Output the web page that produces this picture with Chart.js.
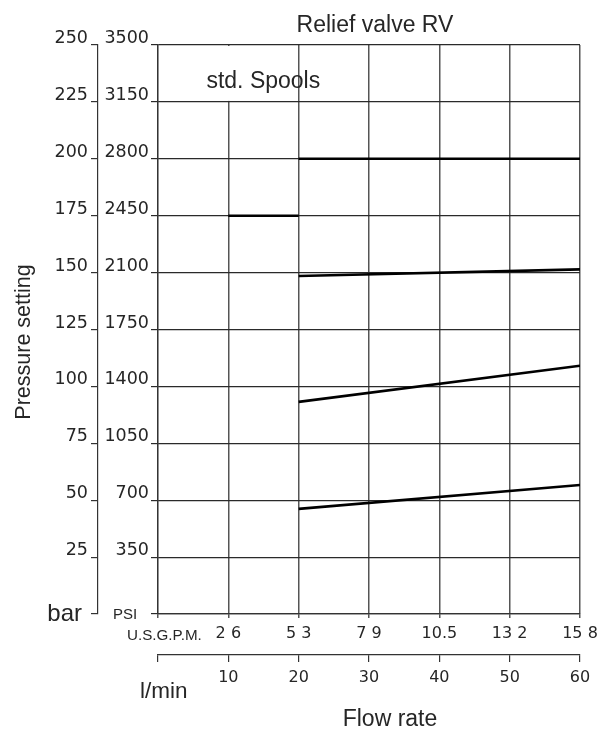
<!DOCTYPE html>
<html><head><meta charset="utf-8">
<style>html,body{margin:0;padding:0;background:#fff}#wrap{width:606px;height:731px}</style>
<script src="https://cdn.jsdelivr.net/npm/chart.js@4.4.1/dist/chart.umd.min.js"></script>
</head><body><div id="wrap"><canvas id="c" width="606" height="731"></canvas></div>
<script>
// ---- data ----
const flowTicksLmin = [0, 10, 20, 30, 40, 50, 60];
const flowLabelsLmin = ['', '10', '20', '30', '40', '50', '60'];
const flowLabelsGpm = ['', '2 6', '5 3', '7 9', '10.5', '13 2', '15 8'];
const pressureTicksBar = [0, 25, 50, 75, 100, 125, 150, 175, 200, 225, 250];
const pressureTicksPsi = [0, 350, 700, 1050, 1400, 1750, 2100, 2450, 2800, 3150, 3500];

const curveAFlow = [20, 60];  const curveABar = [200, 200];
const curveBFlow = [10, 20];  const curveBBar = [175, 175];
const curveCFlow = [20, 60];  const curveCBar = [148.5, 151.4];
const curveDFlow = [20, 60];  const curveDBar = [93.2, 109.1];
const curveEFlow = [20, 60];  const curveEBar = [46.2, 56.7];

const curves = [
  [curveAFlow, curveABar], [curveBFlow, curveBBar], [curveCFlow, curveCBar],
  [curveDFlow, curveDBar], [curveEFlow, curveEBar]
];

const tickFont = {family: 'DejaVu Sans', size: 17.5, weight: 'normal'};
const xTickFont = {family: 'DejaVu Sans', size: 16, weight: 'normal'};
const txtColor = '#262626';

const decor = {
  id: 'decor',
  beforeDatasetsDraw(chart) {
    const {ctx, scales: {x, yb}} = chart;
    const px = x.getPixelForValue(10);
    const yTop = yb.getPixelForValue(250), yMid = yb.getPixelForValue(225);
    ctx.save();
    ctx.fillStyle = '#fff';
    ctx.fillRect(px - 2.5, yTop + 1, 5, yMid - yTop - 2);
    ctx.restore();
  },
  afterDraw(chart) {
    const {ctx, scales: {x, yb}} = chart;
    ctx.save();
    ctx.fillStyle = txtColor;
    ctx.textBaseline = 'alphabetic';
    ctx.font = '23px "Liberation Sans"';
    ctx.textAlign = 'center';
    ctx.fillText('Relief valve RV', 375, 32);
    ctx.fillText('std. Spools', (x.getPixelForValue(0) + x.getPixelForValue(20)) / 2 + 35, 88);
    ctx.fillText('Flow rate', 390, 726);
    ctx.font = '22.5px "Liberation Sans"';
    ctx.textAlign = 'left';
    ctx.fillText('l/min', 140, 698);
    ctx.font = '24px "Liberation Sans"';
    ctx.textAlign = 'right';
    ctx.fillText('bar', 82, yb.getPixelForValue(0) + 7);
    ctx.font = '15px "Liberation Sans"';
    ctx.textAlign = 'left';
    ctx.fillText('PSI', 113, yb.getPixelForValue(0) + 5);
    ctx.font = '15.2px "Liberation Sans"';
    ctx.fillText('U.S.G.P.M.', 127, 640);
    ctx.font = '21.5px "Liberation Sans"';
    ctx.translate(24, 342);
    ctx.rotate(-Math.PI / 2);
    ctx.textAlign = 'center';
    ctx.textBaseline = 'middle';
    ctx.fillText('Pressure setting', 0, 0);
    ctx.restore();
  }
};

new Chart(document.getElementById('c'), {
  type: 'line',
  data: {
    datasets: curves.map(([f, p]) => ({
      data: f.map((v, i) => ({x: v, y: p[i]})),
      borderColor: '#000', borderWidth: 2.6, pointRadius: 0,
      xAxisID: 'x', yAxisID: 'yb', tension: 0, borderCapStyle: 'butt'
    }))
  },
  options: {
    responsive: false, animation: false, devicePixelRatio: 1,
    layout: {padding: {left: 0, right: 26, top: 45, bottom: 0}},
    plugins: {legend: {display: false}, tooltip: {enabled: false}, title: {display: false}},
    scales: {
      x: {
        type: 'linear', axis: 'x', position: 'bottom', weight: 1, min: 0, max: 60,
        afterBuildTicks: s => { s.ticks = flowTicksLmin.map(v => ({value: v})); },
        ticks: {callback: (v, i) => flowLabelsGpm[i], font: xTickFont, color: txtColor,
                padding: 6, maxRotation: 0, autoSkip: false},
        grid: {color: '#555', lineWidth: 1.5, tickLength: 4, drawOnChartArea: true},
        border: {display: true, color: '#333', width: 1.2},
        afterFit: s => { s.height = 41; }
      },
      xl: {
        type: 'linear', axis: 'x', position: 'bottom', weight: 2, min: 0, max: 60,
        afterBuildTicks: s => { s.ticks = flowTicksLmin.map(v => ({value: v})); },
        ticks: {callback: (v, i) => flowLabelsLmin[i], font: xTickFont, color: txtColor,
                padding: 6, maxRotation: 0, autoSkip: false},
        grid: {color: '#333', lineWidth: 1.2, tickLength: 7, drawOnChartArea: false},
        border: {display: true, color: '#333', width: 1.2},
        afterFit: s => { s.height = 76; }
      },
      y: {
        type: 'linear', axis: 'y', position: 'left', weight: 1, min: 0, max: 3500,
        afterBuildTicks: s => { s.ticks = pressureTicksPsi.map(v => ({value: v})); },
        ticks: {callback: v => (v === 0 ? '' : String(v)), font: tickFont, color: txtColor,
                padding: 2, labelOffset: -6.5, autoSkip: false},
        grid: {color: '#2a2a2a', lineWidth: 1.2, tickLength: 7, drawOnChartArea: true},
        border: {display: true, color: '#333', width: 1.2},
        afterFit: s => { s.width = 60; }
      },
      yb: {
        type: 'linear', axis: 'y', position: 'left', weight: 2, min: 0, max: 250,
        afterBuildTicks: s => { s.ticks = pressureTicksBar.map(v => ({value: v})); },
        ticks: {callback: v => (v === 0 ? '' : String(v)), font: tickFont, color: txtColor,
                padding: 3, labelOffset: -6.5, autoSkip: false},
        grid: {color: '#333', lineWidth: 1.2, tickLength: 7, drawOnChartArea: false},
        border: {display: true, color: '#333', width: 1.2},
        afterFit: s => { s.width = 98; }
      }
    }
  },
  plugins: [decor]
});
</script>
</body></html>
